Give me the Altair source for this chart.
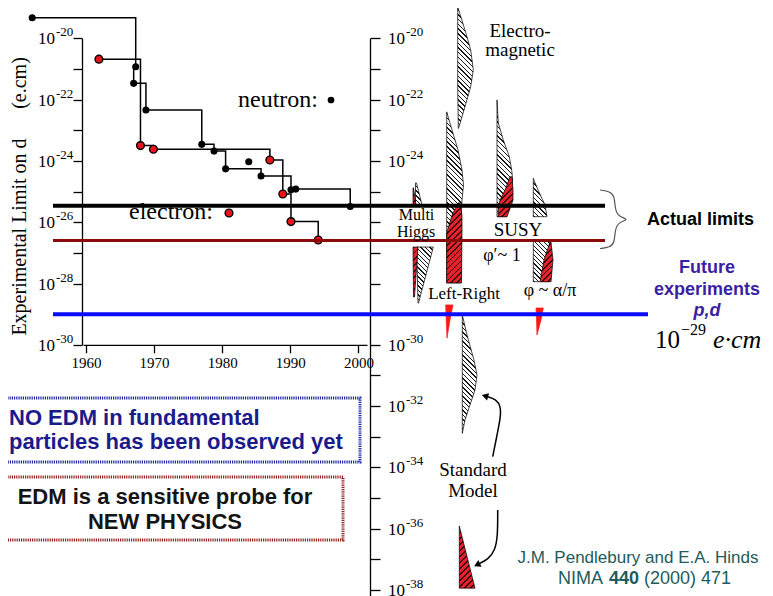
import altair as alt
import numpy as np
import pandas as pd

W, H = 757, 590
PX_DEC = 30.65      # pixels per decade of d
Y_TOP = 30.3        # chart y of 10^-20
SERIF = "Liberation Serif"
SANS = "Liberation Sans"

# ---------------- experimental limits (year, log10 d [e.cm]) ----------------
neutron_year = [1952.1, 1967.3, 1967.0, 1968.8, 1977.0, 1978.8, 1980.5, 1985.7, 1990.1, 1990.8, 1998.8]
neutron_log10_d = [-19.33, -20.93, -21.47, -22.34, -23.46, -23.68, -24.26, -24.49, -24.94, -24.92, -25.49]
neutron_single_year = [1983.9]
neutron_single_log10_d = [-24.03]
electron_year = [1961.9, 1968.0, 1969.9, 1987.0, 1988.9, 1990.1, 1994.1]
electron_log10_d = [-20.68, -23.50, -23.62, -23.97, -25.08, -25.98, -26.58]

limit_label = ["neutron", "electron", "future"]
limit_log10_d = [-25.46, -26.60, -29.00]

year_ticks = [1960, 1970, 1980, 1990, 2000]
left_tick_exp = list(range(-20, -31, -1))
right_tick_exp = list(range(-20, -39, -1))
left_label_exp = [-20, -22, -24, -26, -28, -30]
right_label_exp = [-20, -22, -24, -30, -32, -34, -36, -38]

# ---------------- theory predictions (log10 d, left / right edge on panel column axis) ----------------
em_log10_d = [-18.97, -19.84, -20.38, -21.03, -21.58, -22.23, -22.94]
em_left = [45.77, 45.77, 45.77, 45.77, 45.77, 45.80, 45.83]
em_right = [45.77, 46.60, 47.07, 47.33, 47.07, 46.50, 45.85]

lr_grey_log10_d = [-22.40, -22.99, -23.64, -24.30, -24.79, -25.28, -25.93, -27.98]
lr_grey_left = [44.67, 44.67, 44.67, 44.67, 44.67, 44.67, 44.67, 44.67]
lr_grey_right = [44.67, 45.20, 45.80, 46.20, 46.35, 46.20, 46.10, 46.10]
lr_red_log10_d = [-25.37, -25.77, -26.35, -27.98]
lr_red_left = [45.80, 45.20, 44.67, 44.67]
lr_red_right = [46.00, 46.20, 46.20, 46.15]
lr_tail_log10_d = [-28.70, -29.19, -29.78]
lr_tail_left = [44.57, 44.62, 44.70]
lr_tail_right = [45.30, 45.00, 44.70]

mh_top_grey_log10_d = [-24.72, -25.44]
mh_top_grey_left = [41.55, 41.55]
mh_top_grey_right = [41.65, 42.20]
mh_top_red_log10_d = [-24.88, -25.44]
mh_top_red_left = [41.30, 41.30]
mh_top_red_right = [41.35, 41.60]
mh_bot_grey_log10_d = [-26.81, -28.64]
mh_bot_grey_left = [41.67, 41.80]
mh_bot_grey_right = [43.33, 41.85]
mh_bot_red_log10_d = [-26.81, -28.44]
mh_bot_red_left = [41.30, 41.35]
mh_bot_red_right = [41.80, 41.45]

susy_grey_log10_d = [-22.01, -22.76, -23.32, -23.86, -24.30, -24.62, -25.82]
susy_grey_left = [49.70, 49.70, 49.70, 49.70, 49.70, 49.70, 49.70]
susy_grey_right = [49.70, 49.83, 50.33, 50.93, 51.17, 51.27, 50.67]
susy_red_log10_d = [-24.52, -24.95, -25.28, -25.47, -25.82]
susy_red_left = [51.00, 50.50, 50.00, 49.85, 49.80]
susy_red_right = [51.20, 51.30, 51.30, 51.10, 50.70]

phi_top_grey_log10_d = [-24.57, -24.95, -25.44, -25.82]
phi_top_grey_left = [53.33, 53.33, 53.33, 53.33]
phi_top_grey_right = [53.33, 53.80, 54.50, 54.70]
phi_bot_grey_log10_d = [-26.58, -27.94]
phi_bot_grey_left = [53.33, 53.33]
phi_bot_grey_right = [55.00, 54.90]
phi_bot_red_log10_d = [-26.65, -27.23, -27.94]
phi_bot_red_left = [55.00, 54.40, 54.00]
phi_bot_red_right = [55.10, 55.30, 55.10]
phi_tail_log10_d = [-28.80, -29.19, -29.68]
phi_tail_left = [53.60, 53.65, 53.70]
phi_tail_right = [54.33, 54.10, 53.70]

sm_grey_log10_d = [-29.03, -29.68, -30.50, -30.99, -31.47, -31.96, -32.45, -32.89]
sm_grey_left = [46.23, 46.23, 46.23, 46.23, 46.23, 46.23, 46.23, 46.23]
sm_grey_right = [46.23, 46.70, 47.40, 47.70, 47.50, 47.00, 46.50, 46.23]
sm_red_log10_d = [-35.91, -37.94]
sm_red_left = [45.93, 45.93]
sm_red_right = [45.93, 47.50]

arrow1_u = [49.27, 49.67, 50.07, 50.07, 49.67, 48.60]
arrow1_log10_d = [-33.65, -33.00, -32.35, -32.02, -31.78, -31.68]
arrow2_u = [49.77, 49.77, 49.50, 48.83, 47.80]
arrow2_log10_d = [-35.39, -36.26, -36.70, -37.00, -37.16]

brace_u = [60.0, 61.0, 61.45, 61.5, 61.8, 63.0, 61.8, 61.5, 61.45, 61.0, 60.0]
brace_log10_d = [-24.95, -25.00, -25.15, -25.55, -25.82, -25.91, -26.00, -26.27, -26.67, -26.82, -26.86]


def to_d(exps):
    return [10.0 ** e for e in exps]


# ---------------- scales & axes ----------------
Y_BOTTOM_LEFT = Y_TOP + 10 * PX_DEC
X_YEAR_SCALE = alt.Scale(domain=[1960 - 3 / 6.81, 1960 + 281 / 6.81], range=[75, 359], zero=False, nice=False)
Y_L_SCALE = alt.Scale(type="log", domain=[1e-30, 1e-20], range=[Y_BOTTOM_LEFT, Y_TOP], nice=False)
Y_R_SCALE = alt.Scale(type="log", domain=[10 ** (-20 - (H - Y_TOP) / PX_DEC), 1e-20], range=[H, Y_TOP], nice=False)
X_T_SCALE = alt.Scale(domain=[0.8, 76.5], zero=False, nice=False)

AX = dict(grid=False, title=None, domainColor="black", tickColor="black", labelColor="black",
          labelFont=SERIF, labelOverlap=False, labelFlush=False, domainWidth=1.3, tickWidth=1.3)
X_AXIS = alt.Axis(orient="bottom", values=year_ticks, format="d", offset=-(H - Y_BOTTOM_LEFT),
                  tickSize=8, labelFontSize=15, labelPadding=3, **AX)
L_AXIS = alt.Axis(orient="left", values=to_d(left_tick_exp), labels=False, offset=-74, tickSize=9, **AX)
R_AXIS = alt.Axis(orient="right", values=to_d(right_tick_exp), labels=False, offset=-(W - 362),
                  tickSize=10, **AX)

XL = alt.X("year:Q", scale=X_YEAR_SCALE, axis=X_AXIS)
YL = alt.Y("v:Q", scale=Y_L_SCALE, axis=L_AXIS)
XT = alt.X("xl:Q", scale=X_T_SCALE, axis=None)
YR = alt.Y("v:Q", scale=Y_R_SCALE, axis=R_AXIS)


def hatch(w, h, spacing, bg, fg, lw, direction):
    w = max(w, 1.0)
    h = max(h, 1.0)
    a = (w + h) / (w * w + h * h)
    length = (w + h) / np.sqrt(2.0)
    n = max(int(round(length / spacing)), 1)
    f = min(lw / length, 0.5 / n)
    raw = []
    for k in range(n):
        s = k / n
        e = s + f
        raw += [(s, fg), (e, fg), (e, bg), ((k + 1) / n, bg)]
    stops = [alt.GradientStop(offset=round(o, 5), color=c) for o, c in raw]
    if direction == "down":
        return alt.LinearGradient(gradient="linear", stops=stops, x1=0, y1=1, x2=a * w, y2=1 - a * h)
    return alt.LinearGradient(gradient="linear", stops=stops, x1=0, y1=0, x2=a * w, y2=a * h)


def band(exps, left, right, kind):
    df = pd.DataFrame({"v": to_d(exps), "xl": left, "xr": right})
    w = (max(right) - min(left)) * 10
    h = (max(exps) - min(exps)) * PX_DEC
    if kind == "grey":
        fill = hatch(w, h, 3.3, "#ffffff", "#1a1a1a", 1.0, "down")
    elif kind == "red":
        fill = hatch(w, h, 4.2, "#e3222b", "#3a0808", 1.3, "up")
    else:
        fill = "#ff1818"
    mk = alt.Chart(df).mark_area(orient="horizontal", fill=fill, stroke="black" if kind != "solid" else "#ff1818",
                                 strokeWidth=0.7, opacity=1)
    return mk.encode(y=YR, x=XT, x2="xr:Q")


bands = [
    band(em_log10_d, em_left, em_right, "grey"),
    band(lr_grey_log10_d, lr_grey_left, lr_grey_right, "grey"),
    band(lr_red_log10_d, lr_red_left, lr_red_right, "red"),
    band(lr_tail_log10_d, lr_tail_left, lr_tail_right, "solid"),
    band(mh_top_grey_log10_d, mh_top_grey_left, mh_top_grey_right, "grey"),
    band(mh_top_red_log10_d, mh_top_red_left, mh_top_red_right, "red"),
    band(mh_bot_grey_log10_d, mh_bot_grey_left, mh_bot_grey_right, "grey"),
    band(mh_bot_red_log10_d, mh_bot_red_left, mh_bot_red_right, "red"),
    band(susy_grey_log10_d, susy_grey_left, susy_grey_right, "grey"),
    band(susy_red_log10_d, susy_red_left, susy_red_right, "red"),
    band(phi_top_grey_log10_d, phi_top_grey_left, phi_top_grey_right, "grey"),
    band(phi_bot_grey_log10_d, phi_bot_grey_left, phi_bot_grey_right, "grey"),
    band(phi_bot_red_log10_d, phi_bot_red_left, phi_bot_red_right, "red"),
    band(phi_tail_log10_d, phi_tail_left, phi_tail_right, "solid"),
    band(sm_grey_log10_d, sm_grey_left, sm_grey_right, "grey"),
    band(sm_red_log10_d, sm_red_left, sm_red_right, "red"),
]


def path(us, exps, color, width):
    df = pd.DataFrame({"xl": us, "v": to_d(exps), "i": list(range(len(us)))})
    return alt.Chart(df).mark_line(color=color, strokeWidth=width, interpolate="basis").encode(
        x=XT, y=YR, order="i:Q")


def head(u, e, angle):
    df = pd.DataFrame({"xl": [u], "v": [10.0 ** e]})
    return alt.Chart(df).mark_point(shape="triangle", filled=True, color="black", size=55, opacity=1,
                                    angle=angle).encode(x=XT, y=YR)


def tick_labels(exps, yenc, base_x, base_align, exp_x):
    df = pd.DataFrame({"v": to_d(exps), "base": ["10"] * len(exps), "ex": [str(e) for e in exps]})
    base = alt.Chart(df).mark_text(font=SERIF, fontSize=17, color="black", align=base_align,
                                   baseline="middle", dy=1).encode(
        y=yenc, text="base:N", x=alt.value(base_x - 8))
    ex = alt.Chart(df).mark_text(font=SERIF, fontSize=13, color="black", align="left",
                                 baseline="middle", dy=-6).encode(
        y=yenc, text="ex:N", x=alt.value(exp_x - 8))
    return [base, ex]


right_group = alt.layer(
    *bands,
    path(arrow1_u, arrow1_log10_d, "black", 1.5),
    head(arrow1_u[-1], arrow1_log10_d[-1], 286),
    path(arrow2_u, arrow2_log10_d, "black", 1.5),
    head(arrow2_u[-1], arrow2_log10_d[-1], 244),
    path(brace_u, brace_log10_d, "#555555", 1.2),
    *tick_labels(right_label_exp, YR, 388, "left", 406),
)

# ---------------- left panel: data ----------------
n_df = pd.DataFrame({"year": neutron_year, "v": to_d(neutron_log10_d), "i": list(range(len(neutron_year)))})
n1_df = pd.DataFrame({"year": neutron_single_year, "v": to_d(neutron_single_log10_d)})
e_df = pd.DataFrame({"year": electron_year, "v": to_d(electron_log10_d), "i": list(range(len(electron_year)))})
lim_df = pd.DataFrame({"name": limit_label, "v": to_d(limit_log10_d)})

n_line = alt.Chart(n_df).mark_line(interpolate="step-after", color="black", strokeWidth=1.5).encode(
    x=XL, y=YL, order="i:Q")
e_line = alt.Chart(e_df).mark_line(interpolate="step-after", color="black", strokeWidth=1.5).encode(
    x=XL, y=YL, order="i:Q")
n_pts = alt.Chart(n_df).mark_circle(color="black", size=50, opacity=1).encode(x=XL, y=YL)
n1_pts = alt.Chart(n1_df).mark_circle(color="black", size=50, opacity=1).encode(x=XL, y=YL)
e_pts = alt.Chart(e_df).mark_circle(fill="#e8141c", stroke="black", strokeWidth=1.4, size=60, opacity=1).encode(
    x=XL, y=YL)


def limit_rule(name, color, width, x_end):
    return alt.Chart(lim_df[lim_df["name"] == name]).mark_rule(color=color, strokeWidth=width).encode(
        y=YL, x=alt.value(53 - 8), x2=alt.value(x_end - 8))


left_group = alt.layer(
    n_line, e_line, n_pts, n1_pts, e_pts,
    *tick_labels(left_label_exp, YL, 55, "right", 56),
    limit_rule("neutron", "#000000", 4, 605),
    limit_rule("electron", "#8b0a0a", 3, 605),
    limit_rule("future", "#0a0aff", 4, 648),
)


# ---------------- annotations ----------------
def txt(s, x, y, size, font=SERIF, color="black", weight="normal", style="normal",
        align="center", baseline="middle", angle=0):
    return alt.Chart(pd.DataFrame({"label": [s]})).mark_text(
        font=font, fontSize=size, color=color, fontWeight=weight, fontStyle=style,
        align=align, baseline=baseline, angle=angle
    ).encode(text="label:N", x=alt.value(x - 8), y=alt.value(y - 8))


def dot(x, y, fill, stroke, size, sw):
    return alt.Chart(pd.DataFrame({"k": [0]})).mark_circle(
        fill=fill, stroke=stroke, strokeWidth=sw, size=size, opacity=1
    ).encode(x=alt.value(x - 8), y=alt.value(y - 8))


def box(x0, x1, y0, y1, color):
    return alt.Chart(pd.DataFrame({"k": [0]})).mark_rect(
        fillOpacity=0, stroke=color, strokeWidth=3, strokeDash=[1.2, 1]
    ).encode(x=alt.value(x0 - 8), x2=alt.value(x1 - 8), y=alt.value(y0 - 8), y2=alt.value(y1 - 8))


PURPLE = "#3b1fa3"
NAVY = "#1b1b8c"
TEAL = "#1e5b5b"

text_group = alt.layer(
    txt("Experimental Limit on d", 20, 237, 20, angle=270),
    txt("(e.cm)", 20, 83, 20, angle=270),
    txt("neutron:", 238, 100, 24, align="left"),
    dot(331, 100, "black", "black", 45, 0),
    txt("electron:", 129, 212, 24, align="left"),
    dot(229, 213, "#e8141c", "black", 60, 1.4),
    txt("Electro-", 520, 31, 19),
    txt("magnetic", 520, 50, 19),
    txt("Multi", 416.5, 215, 16),
    txt("Higgs", 416, 232, 16),
    txt("SUSY", 518, 230, 19),
    txt("\u03c6\u2032~ 1", 502, 256, 18),
    txt("Left-Right", 464, 294, 17),
    txt("\u03c6 ~ \u03b1/\u03c0", 550, 291, 18),
    txt("Actual limits", 647, 220, 18, font=SANS, weight="bold", align="left"),
    txt("Future", 707, 268, 18, font=SANS, weight="bold", color=PURPLE),
    txt("experiments", 707, 290, 18, font=SANS, weight="bold", color=PURPLE),
    txt("p,d", 707, 311, 18, font=SANS, weight="bold", style="italic", color=PURPLE),
    txt("10", 655, 348, 25, align="left", baseline="alphabetic"),
    txt("\u221229", 681, 335, 16, align="left", baseline="alphabetic"),
    txt("e\u00b7cm", 713, 348, 26, style="italic", align="left", baseline="alphabetic"),
    box(-30, 360, 398, 462, "#1f2a9e"),
    txt("NO EDM in fundamental", 9, 418, 22, font=SANS, weight="bold", color=NAVY, align="left"),
    txt("particles has been observed yet", 9, 442, 22, font=SANS, weight="bold", color=NAVY, align="left"),
    box(-30, 343, 477, 540, "#962121"),
    txt("EDM is a sensitive probe for", 165, 497, 22, font=SANS, weight="bold", color="#141414"),
    txt("NEW PHYSICS", 165, 522, 22, font=SANS, weight="bold", color="#141414"),
    txt("Standard", 473, 470, 19),
    txt("Model", 473, 491, 19),
    txt("J.M. Pendlebury and E.A. Hinds", 638, 558, 17, font=SANS, color=TEAL),
    txt("NIMA", 603, 579, 18, font=SANS, color=TEAL, align="right"),
    txt("440", 624, 579, 18, font=SANS, color=TEAL, weight="bold"),
    txt("(2000) 471", 644, 579, 18, font=SANS, color=TEAL, align="left"),
)

chart = alt.layer(right_group, left_group, text_group).resolve_scale(
    x="independent", y="independent"
).properties(
    width=W, height=H, padding=0, autosize=alt.AutoSizeParams(type="none")
).configure_view(stroke=None)

chart.save("out.html", embed_options={"renderer": "svg", "actions": False})
